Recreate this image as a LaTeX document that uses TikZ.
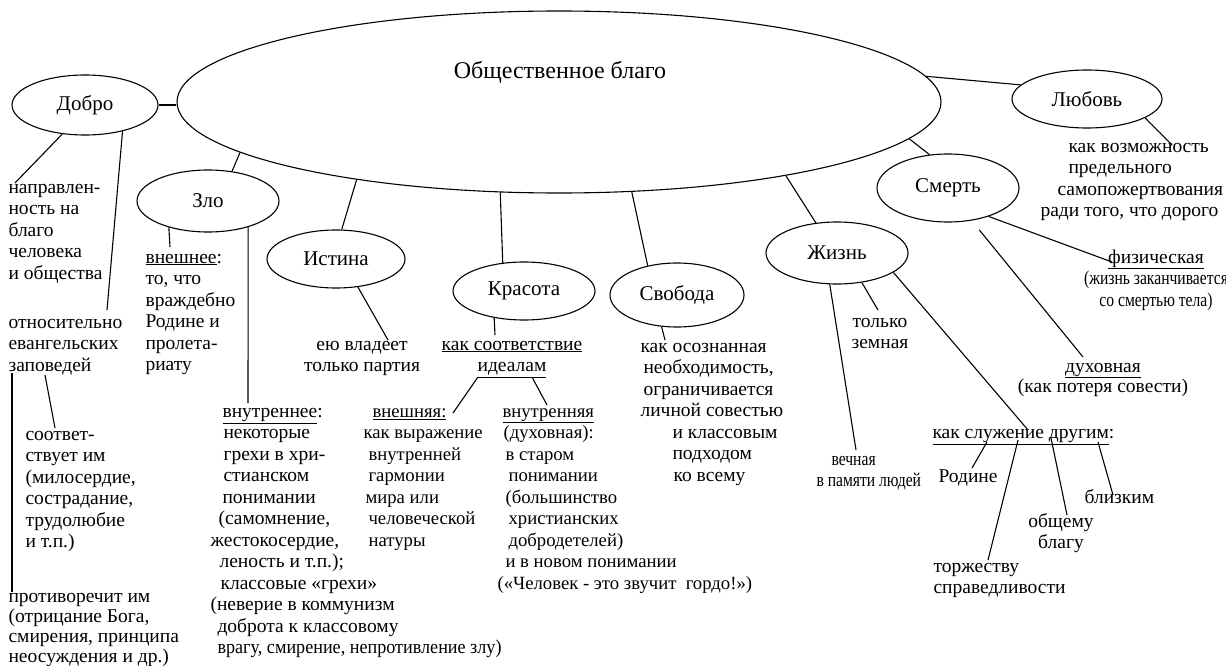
\documentclass[tikz,border=0pt]{standalone}
\usepackage{fontspec}
\setmainfont{Liberation Serif}
\newfontfamily\condA[FakeStretch=0.8]{Liberation Serif}
\newfontfamily\condB[FakeStretch=0.93]{Liberation Serif}
\usetikzlibrary{shapes.geometric}
\newcommand\fs{\fontsize{19.5}{21.5}\selectfont}
\newcommand\fsm{\fontsize{18.7}{21.5}\selectfont}
\newcommand\fst{\fontsize{19.5}{20}\selectfont}
\newcommand\ind[1]{\hspace*{#1pt}}
\begin{document}
\begin{tikzpicture}[x=1pt,y=-1pt,line width=1.1pt,
  oval/.style={ellipse,draw,inner sep=0pt,font=\fontsize{21}{24}\selectfont},
  txt/.style={font=\fs,align=left,inner sep=0pt,anchor=north west},
  ctxt/.style={font=\fs,align=center,inner sep=0pt,anchor=north}]
\fill[white] (0,0) rectangle (1226,666);
\useasboundingbox (0,0) rectangle (1226,666);

% ovals
\node[oval,minimum width=764pt,minimum height=182pt] (main) at (559,102) {};
\node[font=\fontsize{24}{28}\selectfont,inner sep=0pt] (title) at (560,72) {Общественное благо};
\node[oval,minimum width=146pt,minimum height=60pt] (dobro) at (85,105) {Добро};
\node[oval,minimum width=142pt,minimum height=62pt] (zlo) at (208,201) {Зло};
\node[oval,minimum width=138pt,minimum height=58pt] (istina) at (336,259) {Истина};
\node[oval,minimum width=142pt,minimum height=58pt] (krasota) at (524,291) {Красота};
\node[oval,minimum width=134pt,minimum height=64pt] (svoboda) at (677,295) {Свобода};
\node[oval,minimum width=142pt,minimum height=62pt] (zhizn) at (837,253) {Жизнь};
\node[oval,minimum width=142pt,minimum height=68pt] (smert) at (948,188) {Смерть};
\node[oval,minimum width=150pt,minimum height=58pt] (lyubov) at (1087,99) {Любовь};

% connectors between ovals
\draw (dobro.east) -- (dobro.east -| main.west);
\draw (main.189.7) -- (zlo.51);
\draw (main.201.9) -- (istina.79);
\draw (main.237.7) -- (krasota.127);
\draw (main.309.4) -- (svoboda.135);
\draw (main.342.25) -- (zhizn.125.4);
\draw (main.354.3) -- (smert.119.7);
\draw (main.4.2) -- (lyubov.168.5);

% texts
\node[txt] (d1t) at (8,177.5) {\strut направлен-\\ность на\\благо\\человека\\и общества};
\node[txt] (d2t) at (8,312.5) {\strut относительно\\евангельских\\заповедей};
\node[txt] (d3t) at (25,424.5) {\strut соответ-\\ствует им\\(милосердие,\\сострадание,\\трудолюбие\\и т.п.)};
\node[txt,font=\fst] (d4t) at (8,587.5) {\strut противоречит им\\(отрицание Бога,\\смирения, принципа\\неосуждения и др.)};

\node[txt] (z1t) at (145,247.5) {\strut\underline{внешнее}:\\то, что\\враждебно\\Родине и\\пролета-\\риату};
\node[txt] (z2t) at (210,401.5) {\strut\ind{12}\underline{внутреннее}:\\\ind{13}некоторые\\\ind{13}грехи в хри-\\\ind{13}стианском\\\ind{12}понимании\\\ind{8}(самомнение,\\жестокосердие,\\\ind{9}леность и т.п.);\\\ind{10}классовые «грехи»\\(неверие в коммунизм\\\ind{7}доброта к классовому\\\ind{7}{\condB врагу, смирение, непротивление злу)}};

\node[ctxt] (it) at (362,334.5) {\strut ею владеет\\только партия};
\node[ctxt] (kt) at (512,334.5) {\strut\underline{как соответствие}\\\underline{идеалам}};
\node[txt,font=\fsm] (vn1) at (363,401.5) {\strut\ind{9}\underline{внешняя:}\\как выражение\\\ind{5}внутренней\\\ind{5}гармонии\\\ind{2}мира или\\\ind{5}человеческой\\\ind{5}натуры};
\node[txt,font=\fsm] (vn2) at (497,401.5) {\strut\ind{5}\underline{внутренняя}\\\ind{6}(духовная):\\\ind{8}в старом\\\ind{11}понимании\\\ind{8}(большинство\\\ind{11}христианских\\\ind{11}добродетелей)\\\ind{8}и в новом понимании\\(«Человек - это звучит\ \ гордо!»)};

\node[txt] (st) at (640,336.5) {\strut как осознанная\\\ind{3}необходимость,\\\ind{3}ограничивается\\личной совестью\\\ind{32}и классовым\\\ind{32}подходом\\\ind{33}ко всему};

\node[ctxt] (zh1t) at (880,311.5) {\strut только\\земная};
\node[txt,font=\fs\condA] (zh2t) at (816,449.5) {\strut\ind{15}вечная\\в памяти людей};
\node[txt] (slt) at (932,422.5) {\strut\underline{как служение другим}:};
\node[txt] (rt) at (938,466.5) {\strut Родине};
\node[txt] (tt) at (933,556.5) {\strut торжеству\\справедливости};
\node[ctxt] (ot) at (1061,511.5) {\strut общему\\благу};
\node[txt] (bt) at (1084,487.5) {\strut близким};

\node[txt] (lt) at (1040,136.5) {\strut\ind{28}как возможность\\\ind{28}предельного\\\ind{17}самопожертвования\\ради того, что дорого};
\node[ctxt] (ft) at (1156,247.5) {\strut\underline{физическая}\\{\condA (жизнь заканчивается}\\{\condA со смертью тела)}};
\node[ctxt,font=\fst] (dt) at (1103,357.5) {\strut\underline{духовная}\\(как потеря совести)};

% free ends
\coordinate (d1) at (15,183);
\coordinate (d2) at (107,310);
\coordinate (d3a) at (45,375); \coordinate (d3b) at (55,428);
\coordinate (d4a) at (12,373); \coordinate (d4b) at (12,592);
\coordinate (z1) at (170,247);
\coordinate (z2) at (248,403);
\coordinate (i1) at (388,340);
\coordinate (k1) at (495,335);
\coordinate (k2a) at (478,377); \coordinate (k2b) at (453,413);
\coordinate (k3a) at (532,377); \coordinate (k3b) at (547,405);
\coordinate (s1) at (665,340);
\coordinate (zh1) at (878,310);
\coordinate (zh2) at (856,450);
\coordinate (zh3) at (1028,430);
\coordinate (sm1) at (1112,262);
\coordinate (sm2) at (1083,357);
\coordinate (l1) at (1172,145);
\coordinate (sl1a) at (987,442); \coordinate (sl1b) at (972,468);
\coordinate (sl2a) at (1018,440); \coordinate (sl2b) at (988,560);
\coordinate (sl3a) at (1051,438); \coordinate (sl3b) at (1067,515);
\coordinate (sl4a) at (1098,442); \coordinate (sl4b) at (1113,495);

\draw (dobro.232.9) -- (d1);
\draw (dobro.325.6) -- (d2);
\draw (d3a) -- (d3b);
\draw (d4a) -- (d4b);
\draw (zlo.214.4) -- (z1);
\draw (zlo.327.4) -- (z2);
\draw (istina.308.7) -- (i1);
\draw (krasota.222.4) -- (k1);
\draw (k2a) -- (k2b);
\draw (k3a) -- (k3b);
\draw (svoboda.244.2) -- (s1);
\draw (zhizn.310.8) -- (zh1);
\draw (zhizn.257.3) -- (zh2);
\draw (zhizn.341.3) -- (zh3);
\draw (smert.325) -- (sm1);
\draw[shorten <=12pt] (smert.306.9) -- (sm2);
\draw (lyubov.342.4) -- (l1);
\draw (sl1a) -- (sl1b);
\draw (sl2a) -- (sl2b);
\draw (sl3a) -- (sl3b);
\draw (sl4a) -- (sl4b);
\end{tikzpicture}
\end{document}
